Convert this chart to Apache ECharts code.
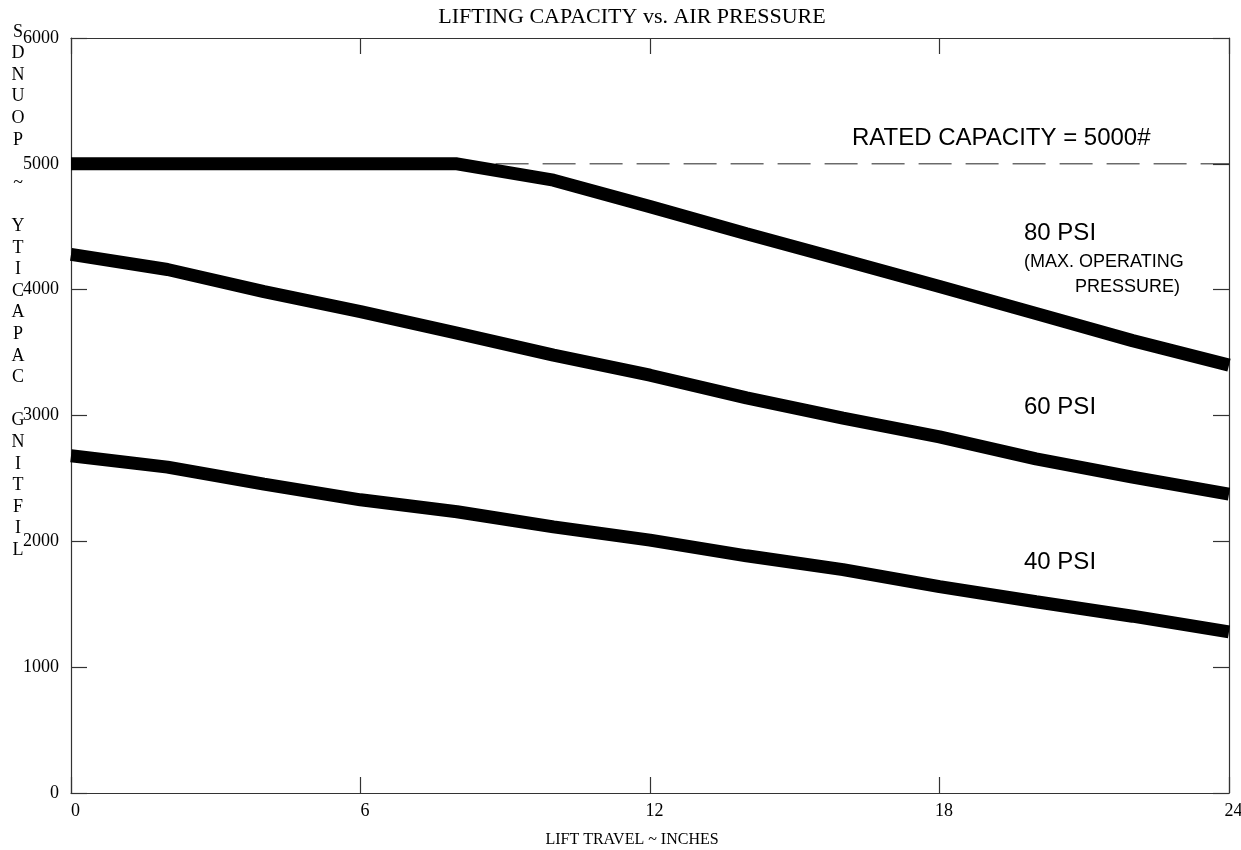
<!DOCTYPE html>
<html>
<head>
<meta charset="utf-8">
<script src="https://cdn.jsdelivr.net/npm/echarts@6/dist/echarts.min.js"></script>
<style>html,body{margin:0;padding:0;background:#fff}#c{width:1241px;height:850px}</style>
</head>
<body>
<div id="c"></div>
<script>
// Data
var travel = [0, 2, 4, 6, 8, 10, 12, 14, 16, 18, 20, 22, 24];
var psi80 = [5000, 5000, 5000, 5000, 5000, 4870, 4660, 4445, 4235, 4025, 3810, 3595, 3400];
var psi60 = [4280, 4160, 3985, 3825, 3655, 3480, 3320, 3140, 2980, 2830, 2655, 2510, 2375];
var psi40 = [2680, 2590, 2455, 2330, 2235, 2115, 2010, 1885, 1775, 1640, 1520, 1405, 1280];
var ratedLine = [[8.8, 5000], [24, 5000]];
var xTicks = [0, 6, 12, 18, 24];
var yTicks = [0, 1000, 2000, 3000, 4000, 5000, 6000];
var titleText = 'LIFTING CAPACITY vs. AIR PRESSURE';
var xName = 'LIFT TRAVEL ~ INCHES';
var yNameReversed = 'SDNUOP ~ YTICAPAC GNITFIL';
var notes = {
  rated: 'RATED CAPACITY = 5000#',
  p80: '80 PSI',
  p80a: '(MAX. OPERATING',
  p80b: 'PRESSURE)',
  p60: '60 PSI',
  p40: '40 PSI'
};

function pairs(ys) { return travel.map(function (x, i) { return [x, ys[i]]; }); }

var chart = echarts.init(document.getElementById('c'));
var serif = '"Liberation Serif", "DejaVu Serif", serif';
var sans = '"Liberation Sans", Arial, sans-serif';
var axisCol = '#333';

var xBase = {
  type: 'value', min: xTicks[0], max: xTicks[xTicks.length - 1], interval: 6,
  axisLine: { show: true, onZero: false, lineStyle: { color: axisCol, width: 1.2 } },
  axisTick: { show: true, inside: true, length: 16, lineStyle: { color: axisCol, width: 1.2 } },
  splitLine: { show: false }
};
var yBase = {
  type: 'value', min: yTicks[0], max: yTicks[yTicks.length - 1], interval: 1000,
  axisLine: { show: true, onZero: false, lineStyle: { color: axisCol, width: 1.2 } },
  axisTick: { show: true, inside: true, length: 16, lineStyle: { color: axisCol, width: 1.2 } },
  splitLine: { show: false }
};

var option = {
  backgroundColor: '#fff',
  animation: false,
  grid: { left: 71, right: 12, top: 38, bottom: 57, containLabel: false, outerBoundsMode: 'none' },
  xAxis: [
    Object.assign({}, xBase, { position: 'bottom',
      axisLabel: { show: true, margin: 9, color: '#000', fontFamily: serif, fontSize: 18, padding: [0, 0, 0, 9],
        formatter: function (v) { return String(v); } } }),
    Object.assign({}, xBase, { position: 'top', axisLabel: { show: false } })
  ],
  yAxis: [
    Object.assign({}, yBase, { position: 'left',
      axisLabel: { show: true, margin: 12, color: '#000', fontFamily: serif, fontSize: 18, padding: [9, 0, 0, 0],
        formatter: function (v) { return String(v); } } }),
    Object.assign({}, yBase, { position: 'right', axisLabel: { show: false } })
  ],
  series: [
    { type: 'line', data: ratedLine, symbol: 'none', silent: true, z: 1,
      lineStyle: { color: '#222', width: 1, type: [33, 14] } },
    { type: 'line', name: '80 PSI', data: pairs(psi80), symbol: 'none', z: 3,
      lineStyle: { color: '#000', width: 13 } },
    { type: 'line', name: '60 PSI', data: pairs(psi60), symbol: 'none', z: 3,
      lineStyle: { color: '#000', width: 13 } },
    { type: 'line', name: '40 PSI', data: pairs(psi40), symbol: 'none', z: 3,
      lineStyle: { color: '#000', width: 13 } }
  ],
  graphic: [
    { type: 'text', x: 632, y: 17, style: { text: titleText, align: 'center', verticalAlign: 'middle', font: '22px ' + serif, fill: '#000' } },
    { type: 'text', x: 632, y: 840, style: { text: xName, align: 'center', verticalAlign: 'middle', font: '16px ' + serif, fill: '#000' } },
    { type: 'text', x: 18, y: 21, style: { text: yNameReversed.split('').join('\n'), align: 'center', verticalAlign: 'top', font: '18px ' + serif, lineHeight: 21.6, fill: '#000' } },
    { type: 'text', x: 852, y: 138, style: { text: notes.rated, align: 'left', verticalAlign: 'middle', font: '24px ' + sans, fill: '#000' } },
    { type: 'text', x: 1024, y: 233, style: { text: notes.p80, align: 'left', verticalAlign: 'middle', font: '24px ' + sans, fill: '#000' } },
    { type: 'text', x: 1024, y: 262, style: { text: notes.p80a, align: 'left', verticalAlign: 'middle', font: '18px ' + sans, fill: '#000' } },
    { type: 'text', x: 1180, y: 287, style: { text: notes.p80b, align: 'right', verticalAlign: 'middle', font: '18px ' + sans, fill: '#000' } },
    { type: 'text', x: 1024, y: 407, style: { text: notes.p60, align: 'left', verticalAlign: 'middle', font: '24px ' + sans, fill: '#000' } },
    { type: 'text', x: 1024, y: 562, style: { text: notes.p40, align: 'left', verticalAlign: 'middle', font: '24px ' + sans, fill: '#000' } }
  ]
};
chart.setOption(option);
</script>
</body>
</html>
